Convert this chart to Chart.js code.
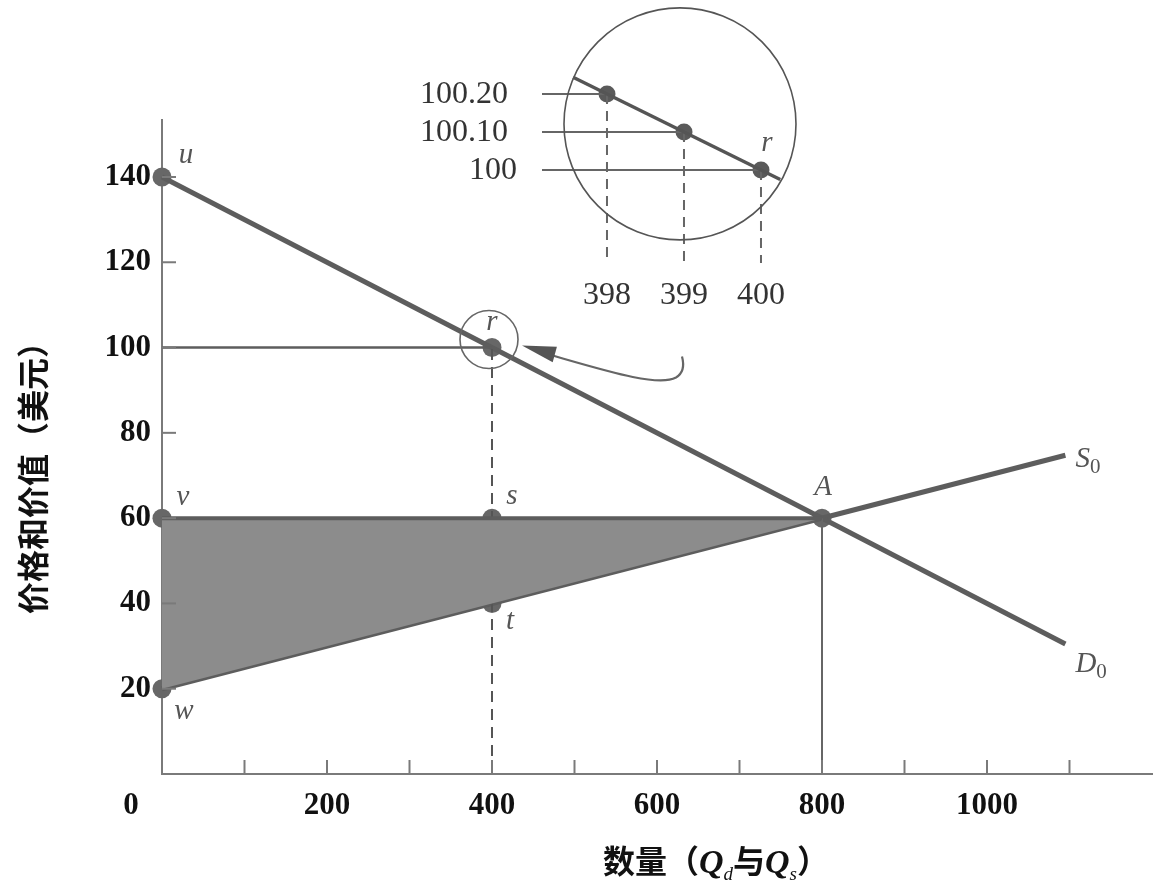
<!DOCTYPE html>
<html>
<head>
<meta charset="utf-8">
<script src="https://cdn.jsdelivr.net/npm/chart.js@4.4.1/dist/chart.umd.min.js"></script>
<style>
  html, body { margin: 0; padding: 0; background: #ffffff; }
  #wrap { width: 1155px; height: 882px; position: relative; }
  #wrap canvas { position: absolute; left: 0; top: 0; }
</style>
</head>
<body>
<div id="wrap"><canvas id="c" width="1155" height="882"></canvas><canvas id="inset" width="1155" height="882"></canvas></div>
<script>
// ---------------- data ----------------
const xTicks = [0, 100, 200, 300, 400, 500, 600, 700, 800, 900, 1000, 1100];
const xTickLabels = ['0', '', '200', '', '400', '', '600', '', '800', '', '1000', ''];
const yTicks = [20, 40, 60, 80, 100, 120, 140];
const yTickLabels = ['20', '40', '60', '80', '100', '120', '140'];

const demandQ = [0, 1095];
const demandP = [140, 30.5];
const supplyQ = [0, 1095];
const supplyP = [20, 74.75];

const surplusTopQ = [0, 800];
const surplusTopP = [60, 60];
const surplusBottomQ = [0, 800];
const surplusBottomP = [20, 60];

const price100Q = [0, 400];
const price100P = [100, 100];
const price40Q = [0, 400];
const price40P = [40, 40];
const dropQ400 = [400, 400];
const dropP400 = [0, 100];
const dropQ800 = [800, 800];
const dropP800 = [0, 60];

const markQ = [0, 400, 0, 400, 800, 400, 0];
const markP = [140, 100, 60, 60, 60, 40, 20];
const markNames = ['u', 'r', 'v', 's', 'A', 't', 'w'];

// inset (zoom on r)
const insetQ = [398, 399, 400];
const insetP = [100.2, 100.1, 100];
const insetQLabels = ['398', '399', '400'];
const insetPLabels = ['100.20', '100.10', '100'];
const insetLineQ = [397.56, 400.25];
const insetLineP = [100.244, 99.975];
const insetGuideLeftQ = 397.156;
const insetGuideBottomP = 99.755;

// ---------------- helpers ----------------
const pts = (xs, ys) => xs.map((x, i) => ({ x: x, y: ys[i] }));
const LINE = '#5d5d5d';
const AXIS = '#7a7a7a';
const SERIF = '"Liberation Serif", "DejaVu Serif", serif';
const CJK = '"Noto Sans CJK SC", sans-serif';

const base = { showLine: true, pointRadius: 0, fill: false, borderColor: LINE, clip: false };

const datasets = [
  Object.assign({}, base, { data: pts(surplusTopQ, surplusTopP), borderWidth: 4, fill: '+1', backgroundColor: '#8c8c8c' }),
  Object.assign({}, base, { data: pts(surplusBottomQ, surplusBottomP), borderWidth: 0 }),
  Object.assign({}, base, { data: pts(price40Q, price40P), borderWidth: 2, borderColor: '#5a5a5a' }),
  Object.assign({}, base, { data: pts(price100Q, price100P), borderWidth: 2.5 }),
  Object.assign({}, base, { data: pts(dropQ400, dropP400), borderWidth: 2, borderDash: [11, 7], borderColor: '#555' }),
  Object.assign({}, base, { data: pts(dropQ800, dropP800), borderWidth: 2, borderColor: '#666' }),
  Object.assign({}, base, { data: pts(demandQ, demandP), borderWidth: 5 }),
  Object.assign({}, base, { data: pts(supplyQ, supplyP), borderWidth: 5 }),
  Object.assign({}, base, { data: pts(markQ, markP), showLine: false, pointRadius: 9.5, pointBackgroundColor: '#676767', pointBorderWidth: 0 })
];

const insetSets = [
  Object.assign({}, base, { data: pts(insetLineQ, insetLineP), borderWidth: 3.5, borderColor: '#555' })
];
insetQ.forEach((q, i) => {
  insetSets.push(Object.assign({}, base, { data: [{ x: insetGuideLeftQ, y: insetP[i] }, { x: q, y: insetP[i] }], borderWidth: 2, borderColor: '#666' }));
  insetSets.push(Object.assign({}, base, { data: [{ x: q, y: insetP[i] }, { x: q, y: insetGuideBottomP }], borderWidth: 2, borderDash: [10, 7], borderColor: '#666' }));
});
insetSets.push(Object.assign({}, base, { data: pts(insetQ, insetP), showLine: false, pointRadius: 8.5, pointBackgroundColor: '#5a5a5a', pointBorderWidth: 0 }));

function subText(ctx, x, y, main, sub, mainFont, subFont, color) {
  ctx.fillStyle = color;
  ctx.font = mainFont;
  ctx.textAlign = 'left';
  ctx.textBaseline = 'alphabetic';
  ctx.fillText(main, x, y);
  const w = ctx.measureText(main).width;
  ctx.font = subFont;
  ctx.fillText(sub, x + w, y + 6);
}
const LAB = 'italic 29px ' + SERIF;

// ---------------- main decorations ----------------
const deco = {
  id: 'deco',
  afterDatasetsDraw(chart) {
    const ctx = chart.ctx;
    const X = chart.scales.x, Y = chart.scales.y;
    ctx.save();
    ctx.strokeStyle = AXIS; ctx.lineWidth = 2;
    xTicks.forEach(v => {
      if (v === 0) return;
      const px = X.getPixelForValue(v);
      ctx.beginPath(); ctx.moveTo(px, Y.bottom); ctx.lineTo(px, Y.bottom - 14); ctx.stroke();
    });
    yTicks.forEach(v => {
      const py = Y.getPixelForValue(v);
      ctx.beginPath(); ctx.moveTo(X.left, py); ctx.lineTo(X.left + 14, py); ctx.stroke();
    });

    ctx.fillStyle = '#555'; ctx.font = LAB; ctx.textAlign = 'center'; ctx.textBaseline = 'middle';
    const off = { u: [24, -22], r: [0, -25], v: [21, -21], s: [20, -22], A: [1, -31], t: [18, 18], w: [22, 23] };
    markNames.forEach((n, i) => {
      const px = X.getPixelForValue(markQ[i]), py = Y.getPixelForValue(markP[i]);
      ctx.fillText(n, px + off[n][0], py + off[n][1]);
    });
    const dEnd = [X.getPixelForValue(demandQ[1]), Y.getPixelForValue(demandP[1])];
    const sEnd = [X.getPixelForValue(supplyQ[1]), Y.getPixelForValue(supplyP[1])];
    subText(ctx, sEnd[0] + 10, sEnd[1] + 12, 'S', '0', LAB, '21px ' + SERIF, '#555');
    subText(ctx, dEnd[0] + 10, dEnd[1] + 28, 'D', '0', LAB, '21px ' + SERIF, '#555');

    // small circle around r and arrow
    const rx = X.getPixelForValue(markQ[1]), ry = Y.getPixelForValue(markP[1]);
    ctx.strokeStyle = '#666'; ctx.lineWidth = 1.6;
    ctx.beginPath(); ctx.arc(rx - 3, ry - 8, 29, 0, Math.PI * 2); ctx.stroke();
    ctx.lineWidth = 2.2;
    ctx.beginPath();
    ctx.moveTo(rx + 50, ry + 5);
    ctx.bezierCurveTo(rx + 110, ry + 22, rx + 165, ry + 40, rx + 184, ry + 30);
    ctx.quadraticCurveTo(rx + 194, ry + 24, rx + 190, ry + 9);
    ctx.stroke();
    const tx = rx + 30, ty = ry - 2;
    const ang = Math.atan2(21, 77);
    const hl = 34, hw = 8;
    const bx = tx + hl * Math.cos(ang), by = ty + hl * Math.sin(ang);
    ctx.fillStyle = '#555';
    ctx.beginPath();
    ctx.moveTo(tx, ty);
    ctx.lineTo(bx - hw * Math.sin(ang), by + hw * Math.cos(ang));
    ctx.lineTo(bx + hw * Math.sin(ang), by - hw * Math.cos(ang));
    ctx.closePath(); ctx.fill();

    // y-axis title
    ctx.save();
    ctx.translate(33, 470);
    ctx.rotate(-Math.PI / 2);
    ctx.fillStyle = '#111'; ctx.font = 'bold 32px ' + CJK;
    ctx.textAlign = 'center'; ctx.textBaseline = 'middle';
    ctx.fillText('价格和价值（美元）', 0, 0);
    ctx.restore();

    // x-axis title
    const parts = [
      ['数量（', 'bold 32px ' + CJK, 0],
      ['Q', 'italic bold 34px ' + SERIF, 0],
      ['d', 'italic 19px ' + SERIF, 7],
      ['与', 'bold 32px ' + CJK, 0],
      ['Q', 'italic bold 34px ' + SERIF, 0],
      ['s', 'italic 19px ' + SERIF, 7],
      ['）', 'bold 32px ' + CJK, 0]
    ];
    let total = 0;
    parts.forEach(p => { ctx.font = p[1]; total += ctx.measureText(p[0]).width; });
    let x0 = 716 - total / 2;
    ctx.fillStyle = '#111'; ctx.textAlign = 'left'; ctx.textBaseline = 'alphabetic';
    parts.forEach(p => {
      ctx.font = p[1];
      ctx.fillText(p[0], x0, 873 + p[2]);
      x0 += ctx.measureText(p[0]).width;
    });
    ctx.restore();
  }
};

// ---------------- inset decorations ----------------
const insetDeco = {
  id: 'insetDeco',
  afterDatasetsDraw(chart) {
    const ctx = chart.ctx;
    const X2 = chart.scales.x, Y2 = chart.scales.y;
    ctx.save();
    const cx = X2.getPixelForValue(398.948), cy = Y2.getPixelForValue(100.1213);
    ctx.strokeStyle = '#555'; ctx.lineWidth = 1.6;
    ctx.beginPath(); ctx.arc(cx, cy, 116, 0, Math.PI * 2); ctx.stroke();
    ctx.fillStyle = '#333'; ctx.font = '32px ' + SERIF; ctx.textBaseline = 'middle';
    const leftPx = X2.getPixelForValue(insetGuideLeftQ);
    insetP.forEach((p, i) => {
      const py = Y2.getPixelForValue(p);
      ctx.textAlign = 'right';
      const shift = insetPLabels[i].length < 4 ? 25 : 34;
      ctx.fillText(insetPLabels[i], leftPx - shift, py + 1);
    });
    const botPx = Y2.getPixelForValue(insetGuideBottomP);
    insetQ.forEach((q, i) => {
      ctx.textAlign = 'center';
      ctx.fillText(insetQLabels[i], X2.getPixelForValue(q), botPx + 32);
    });
    ctx.fillStyle = '#555'; ctx.font = LAB; ctx.textAlign = 'center';
    ctx.fillText('r', X2.getPixelForValue(insetQ[2]) + 6, Y2.getPixelForValue(insetP[2]) - 27);
    ctx.restore();
  }
};

// ---------------- charts ----------------
new Chart(document.getElementById('c'), {
  type: 'scatter',
  data: { datasets: datasets },
  options: {
    responsive: false,
    animation: false,
    events: [],
    layout: { autoPadding: false, padding: { top: 120, right: 3, bottom: 0, left: 0 } },
    plugins: { legend: { display: false }, tooltip: { enabled: false } },
    scales: {
      x: {
        type: 'linear', min: 0, max: 1200,
        afterBuildTicks: s => { s.ticks = xTicks.map(v => ({ value: v })); },
        afterFit: s => { s.height = 108; },
        grid: { display: false },
        border: { display: true, color: AXIS, width: 2 },
        ticks: {
          autoSkip: false, maxRotation: 0, padding: 5, color: '#111',
          font: { family: SERIF, size: 31, weight: 'bold' },
          callback: (v, i) => i === 0 ? xTickLabels[0] + '\u2003\u2003' : xTickLabels[i]
        }
      },
      y: {
        type: 'linear', min: 0, max: 153.36,
        afterBuildTicks: s => { s.ticks = yTicks.map(v => ({ value: v })); },
        afterFit: s => { s.width = 162; },
        grid: { display: false },
        border: { display: true, color: AXIS, width: 2 },
        ticks: {
          autoSkip: false, padding: 3, color: '#111',
          font: { family: SERIF, size: 31, weight: 'bold' },
          callback: (v, i) => yTickLabels[i]
        }
      }
    }
  },
  plugins: [deco]
});

new Chart(document.getElementById('inset'), {
  type: 'scatter',
  data: { datasets: insetSets },
  options: {
    responsive: false,
    animation: false,
    events: [],
    layout: { autoPadding: false, padding: 0 },
    plugins: { legend: { display: false }, tooltip: { enabled: false } },
    scales: {
      x: { type: 'linear', display: false, min: 390.117, max: 405.117 },
      y: { type: 'linear', display: false, min: 98.1263, max: 100.4474 }
    }
  },
  plugins: [insetDeco]
});
</script>
</body>
</html>
